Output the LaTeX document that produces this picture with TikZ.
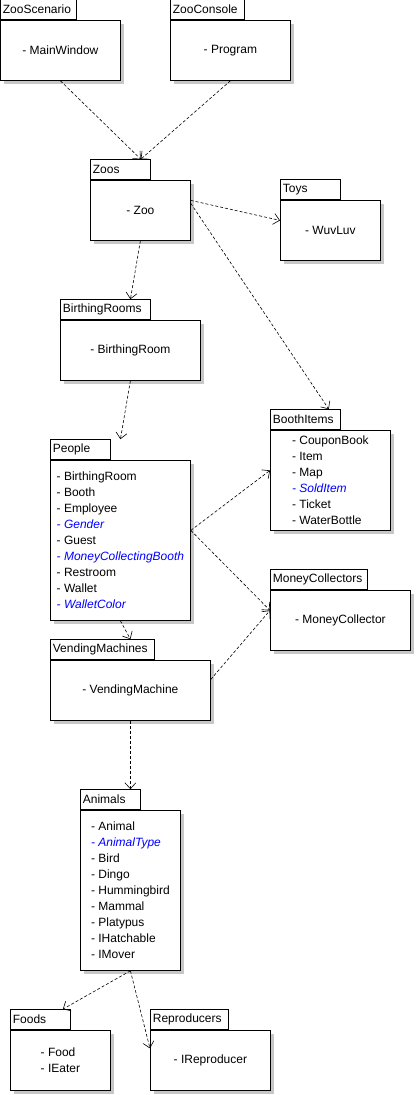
\documentclass[tikz,border=0pt]{standalone}
\usepackage{fontspec}
\setmainfont{Liberation Sans}
\usepackage{tikz}
\usetikzlibrary{arrows.meta,shadows,calc}
\newcommand{\enumitem}[1]{\textcolor{blue}{\itshape #1}}

\begin{document}
\begin{tikzpicture}[x=1pt, y=-1pt,
        font=\fontsize{12}{16}\selectfont,
        body/.style={draw, fill=white, line width=0.8pt, anchor=north west, align=left,
            general shadow={fill=black!22, shadow xshift=3.5pt, shadow yshift=-3.5pt}},
        tab/.style={draw, fill=white, line width=0.8pt, anchor=south west, align=left,
            inner xsep=2.5pt, inner ysep=0pt, minimum height=20pt},
        dep/.style={-{Straight Barb[length=6pt,width=11pt]}, dash pattern=on 3pt off 2pt, line width=0.6pt}]
        \useasboundingbox (0,0) rectangle (415,1095);
        % Packages
        \node[body, minimum width=120pt, minimum height=60pt] (scen) at (0,20) {- MainWindow};
        \node[tab, text width=71pt] (scentab) at (scen.north west) {ZooScenario};
        \node[body, minimum width=120pt, minimum height=60pt] (cons) at (170,20) {- Program};
        \node[tab, text width=69pt] (constab) at (cons.north west) {ZooConsole};
        \node[body, minimum width=100pt, minimum height=60pt] (zoos) at (90,180) {- Zoo};
        \node[tab, text width=55pt] (zoostab) at (zoos.north west) {Zoos};
        \node[body, minimum width=100pt, minimum height=60pt] (toys) at (280,200) {- WuvLuv};
        \node[tab, text width=55pt] (toystab) at (toys.north west) {Toys};
        \node[body, minimum width=140pt, minimum height=60pt] (birth) at (60,320) {- BirthingRoom};
        \node[tab, text width=85pt] (birthtab) at (birth.north west) {BirthingRooms};
        \node[body, minimum width=140pt, minimum height=160pt] (people) at (50,460)
            {- BirthingRoom\\- Booth\\- Employee\\\enumitem{- Gender}\\- Guest\\\enumitem{- MoneyCollectingBooth}\\- Restroom\\- Wallet\\\enumitem{- WalletColor}};
        \node[tab, text width=55pt] (peopletab) at (people.north west) {People};
        \node[body, minimum width=120pt, minimum height=100pt] (booth) at (270,430)
            {- CouponBook\\- Item\\- Map\\\enumitem{- SoldItem}\\- Ticket\\- WaterBottle};
        \node[tab, text width=65pt] (boothtab) at (booth.north west) {BoothItems};
        \node[body, minimum width=140pt, minimum height=60pt] (money) at (270,590) {- MoneyCollector};
        \node[tab, text width=92pt] (moneytab) at (money.north west) {MoneyCollectors};
        \node[body, minimum width=160pt, minimum height=60pt] (vend) at (50,660) {- VendingMachine};
        \node[tab, text width=99pt] (vendtab) at (vend.north west) {VendingMachines};
        \node[body, minimum width=100pt, minimum height=160pt] (animals) at (80,810)
            {- Animal\\\enumitem{- AnimalType}\\- Bird\\- Dingo\\- Hummingbird\\- Mammal\\- Platypus\\- IHatchable\\- IMover};
        \node[tab, text width=55pt] (animalstab) at (animals.north west) {Animals};
        \node[body, minimum width=100pt, minimum height=60pt] (foods) at (10,1030) {- Food\\- IEater};
        \node[tab, text width=55pt] (foodstab) at (foods.north west) {Foods};
        \node[body, minimum width=120pt, minimum height=60pt] (repro) at (150,1030) {- IReproducer};
        \node[tab, text width=73pt] (reprotab) at (repro.north west) {Reproducers};
        % Dependencies
        \draw[dep] (scen.south) -- ([xshift=-10pt]zoostab.north east);
        \draw[dep] (cons.south) -- ([xshift=-10pt]zoostab.north east);
        \draw[dep] ([yshift=10pt]zoos.east) -- ([yshift=10pt]toys.west);
        \draw[dep] ([yshift=7pt]zoos.east) -- ([xshift=-12pt]boothtab.north east);
        \draw[dep] (zoos.south) -- (birth.north |- birthtab.north);
        \draw[dep] (birth.south) -- (people.north |- peopletab.north);
        \draw[dep] ([yshift=10pt]people.east) -- ([yshift=10pt]booth.west);
        \draw[dep] ([yshift=10pt]people.east) -- ([yshift=10pt]money.west);
        \draw[dep] (people.south) -- (vend.north |- vendtab.north);
        \draw[dep] ([yshift=11pt]vend.east) -- ([yshift=10pt]money.west);
        \draw[dep] (vend.south) -- (animals.north |- animalstab.north);
        \draw[dep] (animals.south) -- ([xshift=-8pt]foodstab.north east);
        \draw[dep] (animals.south) -- ([yshift=12pt]repro.west);
    \end{tikzpicture}
\end{document}
